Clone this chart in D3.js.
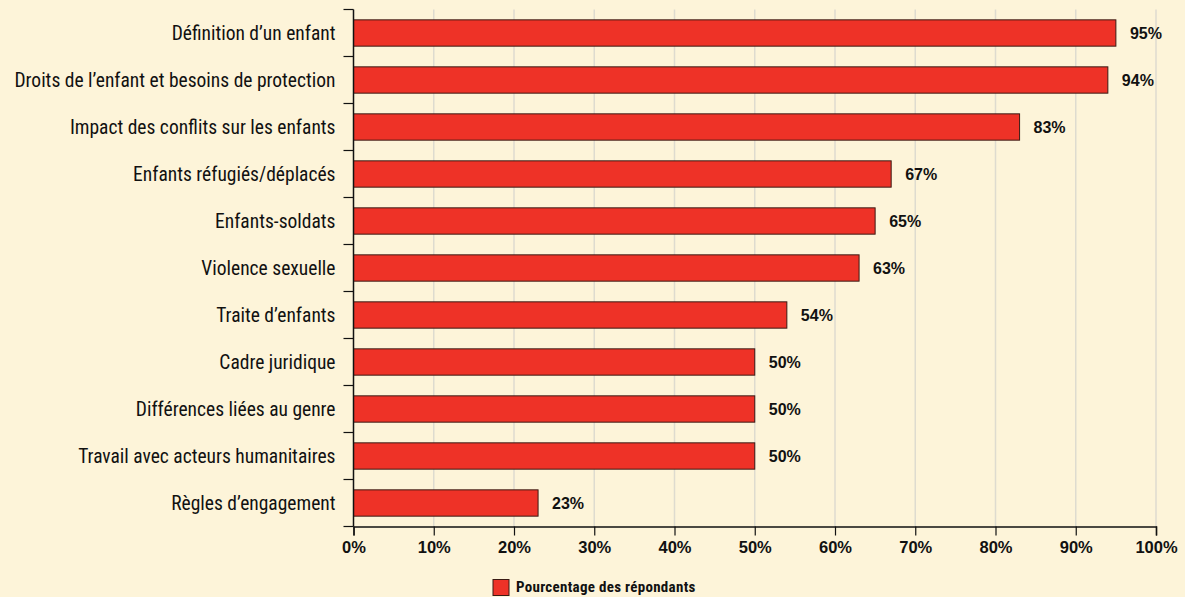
<!DOCTYPE html>
<html>
<head>
<meta charset="utf-8">
<script src="https://cdnjs.cloudflare.com/ajax/libs/d3/7.8.5/d3.min.js"></script>
<style>
  body { margin: 0; background: #fdf4d9; }
  svg { display: block; }
  text { font-family: "Liberation Sans Narrow", "Arial Narrow", "Roboto Condensed", sans-serif; fill: #111; }
  .cat text { font-size: 19.5px; }
  .xaxis text { font-family: "Liberation Sans", Arial, sans-serif; font-size: 16.5px; font-weight: bold; }
  .val { font-family: "Liberation Sans", Arial, sans-serif; font-size: 16px; font-weight: bold; }
</style>
</head>
<body>
<script>
const categories = [
  "Définition d’un enfant",
  "Droits de l’enfant et besoins de protection",
  "Impact des conflits sur les enfants",
  "Enfants réfugiés/déplacés",
  "Enfants-soldats",
  "Violence sexuelle",
  "Traite d’enfants",
  "Cadre juridique",
  "Différences liées au genre",
  "Travail avec acteurs humanitaires",
  "Règles d’engagement"
];
const values = [95, 94, 83, 67, 65, 63, 54, 50, 50, 50, 23];
const xTicks = [0, 10, 20, 30, 40, 50, 60, 70, 80, 90, 100];
const seriesName = "Pourcentage des répondants";

const w = 1185, h = 597,
  margin = { top: 9.5, left: 353.5, right: 29, bottom: 70.5 };

const svg = d3.select("body").append("svg")
  .attr("width", w)
  .attr("height", h);

const x = d3.scaleLinear().domain([0, 100]).range([margin.left, w - margin.right]);
const y = d3.scaleBand().domain(categories)
  .range([margin.top, h - margin.bottom])
  .paddingInner(0.44).paddingOuter(0.22);

// vertical gridlines
svg.append("g").selectAll("line")
  .data(xTicks.slice(1))
  .enter().append("line")
  .attr("x1", d => x(d)).attr("x2", d => x(d))
  .attr("y1", margin.top).attr("y2", h - margin.bottom)
  .attr("stroke", "#dedbcf").attr("stroke-width", 1.5);

// bars
svg.append("g").selectAll("rect")
  .data(values)
  .enter().append("rect")
  .attr("x", x(0))
  .attr("y", (d, i) => y(categories[i]))
  .attr("width", d => x(d) - x(0))
  .attr("height", y.bandwidth())
  .attr("fill", "#ee3227")
  .attr("stroke", "#3a1a14")
  .attr("stroke-width", 1);

svg.append("g").selectAll("text")
  .data(values)
  .enter().append("text")
  .attr("class", "val")
  .attr("x", d => x(d) + 14)
  .attr("y", (d, i) => y(categories[i]) + y.bandwidth() / 2)
  .attr("dy", "0.36em")
  .text(d => d + "%");

// y axis with ticks between categories
const step = y.step();
const yAxisG = svg.append("g").attr("class", "cat");
yAxisG.append("line")
  .attr("x1", margin.left).attr("x2", margin.left)
  .attr("y1", margin.top).attr("y2", h - margin.bottom)
  .attr("stroke", "#111").attr("stroke-width", 1.5);
yAxisG.selectAll("line.tk")
  .data(d3.range(categories.length + 1))
  .enter().append("line")
  .attr("class", "tk")
  .attr("x1", margin.left - 10).attr("x2", margin.left)
  .attr("y1", i => margin.top + i * step).attr("y2", i => margin.top + i * step)
  .attr("stroke", "#111").attr("stroke-width", 1.2);
yAxisG.selectAll("text")
  .data(categories)
  .enter().append("text")
  .attr("x", margin.left - 18)
  .attr("y", d => y(d) + y.bandwidth() / 2)
  .attr("dy", "0.36em")
  .attr("text-anchor", "end")
  .text(d => d);

// x axis
const xAxis = d3.axisBottom(x)
  .tickValues(xTicks)
  .tickSize(9)
  .tickPadding(6)
  .tickFormat(d => d + "%");
const xg = svg.append("g")
  .attr("class", "xaxis")
  .attr("transform", "translate(0," + (h - margin.bottom) + ")")
  .call(xAxis);
xg.select(".domain").attr("stroke", "#111").attr("stroke-width", 1.5);
xg.selectAll(".tick line").attr("stroke", "#111").attr("stroke-width", 1.2);
xg.selectAll(".tick text").attr("fill", "#111");

// legend
const lg = svg.append("g").attr("transform", "translate(493,579.5)");
lg.append("rect").attr("width", 16).attr("height", 16)
  .attr("fill", "#ee3227").attr("stroke", "#3a1a14");
lg.append("text").attr("x", 23).attr("y", 12.5)
  .style("font-size", "15px").style("font-weight", "bold")
  .style("letter-spacing", "0.3px")
  .text(seriesName);
</script>
</body>
</html>
